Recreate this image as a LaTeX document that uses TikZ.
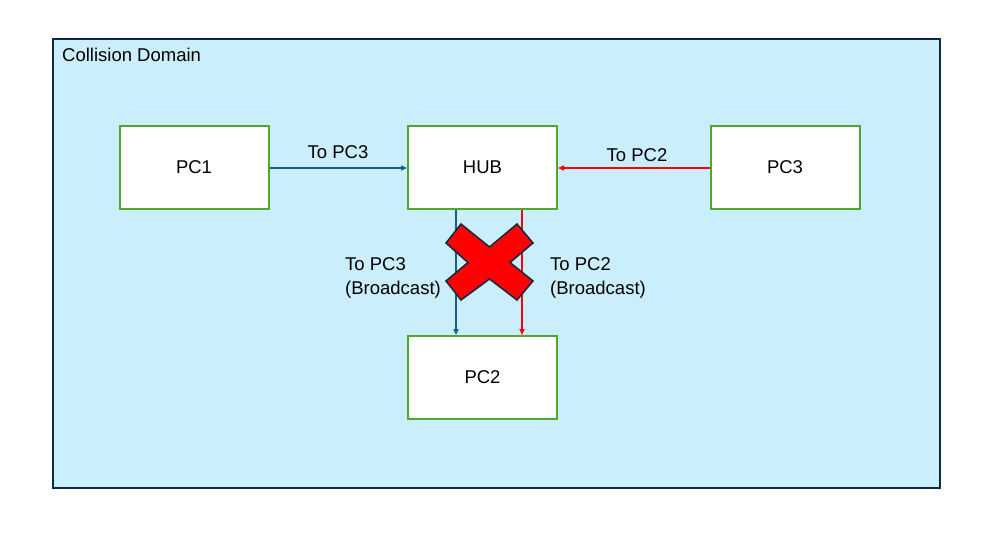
\documentclass[tikz,border=0pt]{standalone}
\usepackage{fontspec}
\setmainfont{Liberation Sans}
\usetikzlibrary{arrows.meta}
\definecolor{domfill}{HTML}{CAEEFB}
\definecolor{domline}{HTML}{0E2841}
\definecolor{pcgreen}{HTML}{4EA72E}
\definecolor{arrblue}{HTML}{156082}
\definecolor{xred}{HTML}{FF0000}
\tikzset{
  pcbox/.style={draw=pcgreen, line width=2pt, fill=white, minimum width=149pt, minimum height=83pt, inner sep=0pt, font=\fontsize{18.5}{24}\selectfont},
  lbl/.style={font=\fontsize{18.5}{24}\selectfont, inner sep=0pt},
  bluearr/.style={draw=arrblue, line width=1.6pt, -{Triangle[length=6pt,width=5pt]}},
  redarr/.style={draw=xred, line width=1.6pt, -{Triangle[length=6pt,width=5pt]}},
}
\begin{document}
\begin{tikzpicture}[x=1pt,y=-1pt]
\useasboundingbox (0,0) rectangle (995,538);
\fill[white] (0,0) rectangle (995,538);
\draw[domline, fill=domfill, line width=2pt] (53,39) rectangle (940,488);
\node[lbl, anchor=west] (title) at (62,55) {Collision Domain};
\node[pcbox] (pc1) at (194,167.5) {PC1};
\node[pcbox] (hub) at (482.5,167.5) {HUB};
\node[pcbox] (pc3) at (785,167.5) {PC3};
\node[pcbox] (pc2) at (482.5,377.5) {PC2};
\coordinate (ay) at (0,168);
\coordinate (bs) at (456,209);
\coordinate (rs) at (522,209);
\draw[bluearr] (pc1.east |- ay) -- (hub.west |- ay);
\draw[redarr] (pc3.west |- ay) -- (hub.east |- ay);
\draw[bluearr] (hub.south -| bs) -- (pc2.north -| bs);
\draw[redarr] (hub.south -| rs) -- (pc2.north -| rs);
\node[lbl] (l1) at (338,152) {To PC3};
\node[lbl] (l2) at (637,155) {To PC2};
\node[lbl, anchor=west, align=left] (l3) at (345,278) {To PC3\\(Broadcast)};
\node[lbl, anchor=west, align=left] (l4) at (550,278) {To PC2\\(Broadcast)};
\draw[domline, fill=xred, line width=1.5pt, line join=miter]
  (446,243) -- (461,224) -- (489.5,247) -- (517,224) -- (533,243) -- (510,262.5)
  -- (533,281) -- (517,300) -- (489.5,279) -- (461,300) -- (446,281) -- (468,262.5) -- cycle;
\end{tikzpicture}
\end{document}
